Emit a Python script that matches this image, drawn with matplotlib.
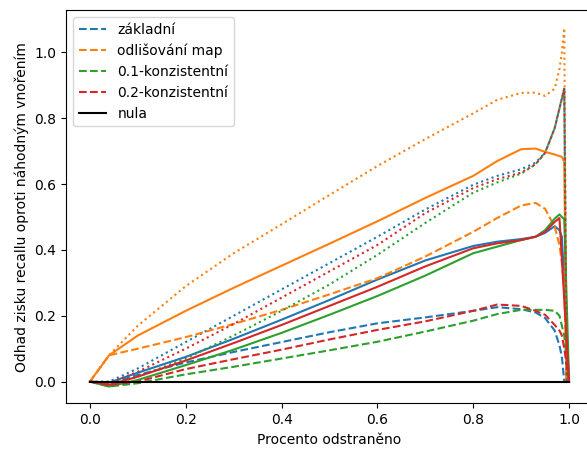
import matplotlib
matplotlib.use("Agg")
import matplotlib.pyplot as plt

# shared x grid (fraction removed)
x = [0, 0.04, 0.1, 0.2, 0.3, 0.4, 0.5, 0.6, 0.7, 0.8, 0.85, 0.9, 0.93, 0.95,
     0.97, 0.98, 0.985, 0.99, 0.995, 1.0]

labels = ["základní", "odlišování map", "0.1-konzistentní", "0.2-konzistentní"]
colors = ["C0", "C1", "C2", "C3"]

# dashed series
zakladni_dashed = [0, -0.005, 0.02, 0.058, 0.09, 0.12, 0.15, 0.177, 0.195, 0.215, 0.226,
                   0.22, 0.21, 0.193, 0.155, 0.11, 0.075, 0.0, 0.0, 0.0]
odlis_dashed = [0, 0.08, 0.10, 0.135, 0.175, 0.218, 0.265, 0.314, 0.38, 0.455, 0.497,
                0.535, 0.543, 0.525, 0.47, 0.415, 0.36, 0.28, 0.0, 0.0]
k01_dashed = [0, -0.015, -0.005, 0.022, 0.045, 0.07, 0.095, 0.121, 0.152, 0.185, 0.205,
              0.218, 0.218, 0.218, 0.215, 0.2, 0.17, 0.14, 0.07, 0.0]
k02_dashed = [0, -0.01, 0.0, 0.038, 0.068, 0.097, 0.128, 0.157, 0.183, 0.215, 0.234,
              0.23, 0.215, 0.203, 0.172, 0.155, 0.14, 0.1, 0.05, 0.0]

# solid series
zakladni_solid = [0, -0.003, 0.027, 0.075, 0.13, 0.188, 0.248, 0.31, 0.368, 0.412, 0.425,
                  0.433, 0.44, 0.452, 0.472, 0.46, 0.44, 0.3, 0.15, 0.0]
odlis_solid = [0, 0.08, 0.14, 0.215, 0.285, 0.352, 0.419, 0.487, 0.558, 0.625, 0.67,
               0.706, 0.708, 0.698, 0.69, 0.685, 0.683, 0.668, 0.0, 0.0]
k01_solid = [0, -0.015, 0.005, 0.05, 0.097, 0.148, 0.203, 0.26, 0.322, 0.39, 0.41,
             0.43, 0.44, 0.46, 0.495, 0.508, 0.50, 0.493, 0.25, 0.0]
k02_solid = [0, -0.01, 0.015, 0.064, 0.117, 0.172, 0.23, 0.288, 0.35, 0.405, 0.42,
             0.43, 0.44, 0.455, 0.485, 0.497, 0.373, 0.249, 0.124, 0.0]

# dotted series
zakladni_dotted = [0, 0.0, 0.04, 0.12, 0.2, 0.28, 0.36, 0.44, 0.523, 0.598, 0.625,
                   0.645, 0.665, 0.695, 0.77, 0.83, 0.86, 0.89, 0.0, 0.0]
odlis_dotted = [0, 0.08, 0.17, 0.29, 0.39, 0.478, 0.567, 0.655, 0.737, 0.815, 0.856,
                0.877, 0.878, 0.868, 0.89, 0.95, 1.0, 1.074, 0.0, 0.0]
k01_dotted = [0, -0.01, 0.015, 0.07, 0.14, 0.215, 0.295, 0.385, 0.482, 0.574, 0.605,
              0.632, 0.66, 0.695, 0.77, 0.83, 0.86, 0.89, 0.0, 0.0]
k02_dotted = [0, -0.005, 0.03, 0.10, 0.175, 0.255, 0.335, 0.415, 0.512, 0.588, 0.615,
              0.635, 0.66, 0.695, 0.77, 0.83, 0.86, 0.89, 0.0, 0.0]

dashed = [zakladni_dashed, odlis_dashed, k01_dashed, k02_dashed]
solid = [zakladni_solid, odlis_solid, k01_solid, k02_solid]
dotted = [zakladni_dotted, odlis_dotted, k01_dotted, k02_dotted]

fig = plt.figure(figsize=(5.87, 4.5), dpi=100)
ax = fig.add_axes([66 / 587, 1 - 403.3 / 450, 527 / 587, 393.3 / 450])

for lab, c, d, s, p in zip(labels, colors, dashed, solid, dotted):
    ax.plot(x, d, linestyle="--", color=c, label=lab)
    ax.plot(x, s, linestyle="-", color=c)
    ax.plot(x, p, linestyle=":", color=c)

ax.plot([0, 1], [0, 0], color="black", label="nula")

ax.set_xlim(-0.05, 1.05)
ax.set_ylim(-0.066, 1.129)
ax.set_xticks([0.0, 0.2, 0.4, 0.6, 0.8, 1.0])
ax.set_yticks([0.0, 0.2, 0.4, 0.6, 0.8, 1.0])
ax.set_xlabel("Procento odstraněno")
ax.set_ylabel("Odhad zisku recallu oproti náhodným vnořením")
ax.legend(loc="upper left")

fig.savefig("out.png", dpi=100)
